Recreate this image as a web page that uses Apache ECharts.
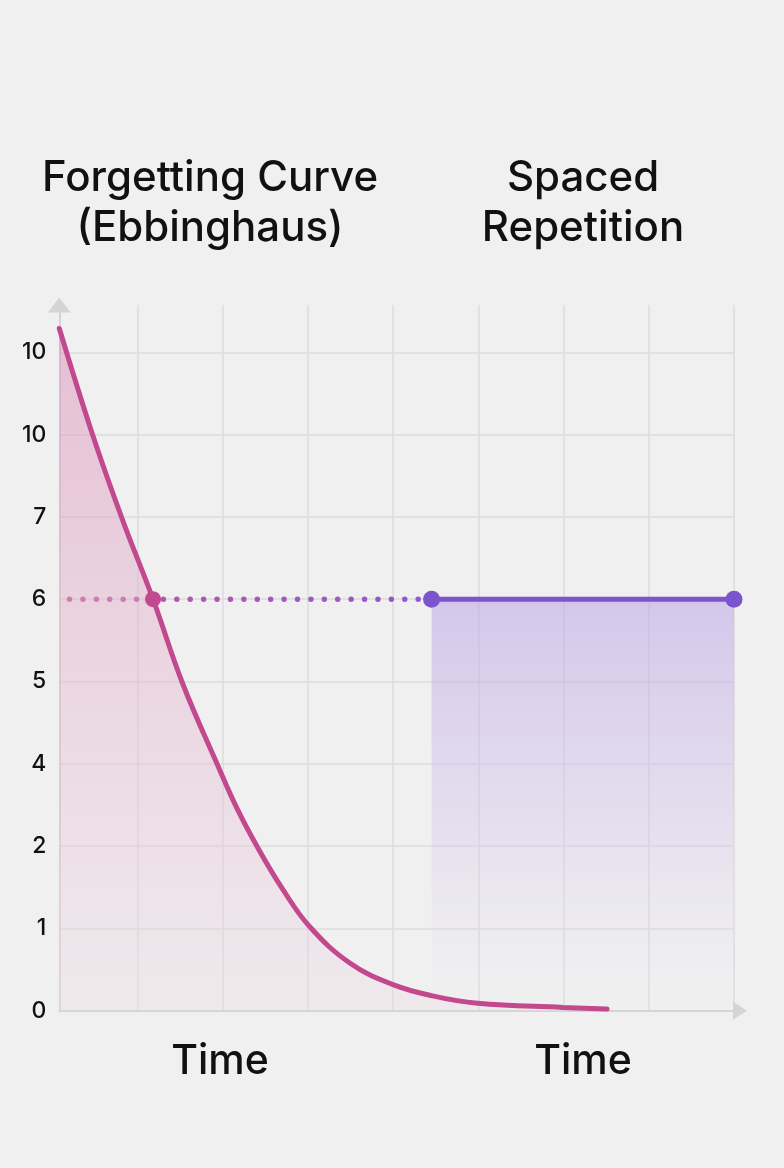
<!DOCTYPE html>
<html>
<head>
<meta charset="utf-8">
<script src="https://cdn.jsdelivr.net/npm/echarts@6/dist/echarts.min.js"></script>
<style>
html,body{margin:0;padding:0;background:#f0f0f0;}
#chart{width:784px;height:1168px;}
</style>
</head>
<body>
<div id="chart"></div>
<script>
// ---- data ----
const yTickLabels = ['0', '1', '2', '4', '5', '6', '7', '10', '10'];
const yTickValues = [0, 1, 2, 3, 4, 5, 6, 7, 8];
const xTickValues = [1, 2, 3, 4, 5, 6, 7, 8];
const forgetX = [0.08, 0.48, 0.82, 1.18, 1.53, 1.94, 2.16, 2.41, 2.70, 3.02, 3.49, 3.99, 4.46, 4.99, 5.99, 6.51];
const forgetY = [8.29, 6.97, 5.97, 5.0, 3.97, 2.98, 2.47, 1.98, 1.48, 1.02, 0.58, 0.32, 0.18, 0.09, 0.04, 0.02];
const retentionLevel = 5;
const dottedX = [0.2, 4.3];
const spacedX = [4.45, 8.0];
const crossX = 1.18;
const titleLeft = 'Forgetting Curve\n(Ebbinghaus)';
const titleRight = 'Spaced\nRepetition';
const xName = 'Time';

const FONT = 'Inter, "Liberation Sans", sans-serif';
const chart = echarts.init(document.getElementById('chart'), null, {renderer: 'canvas'});

const forgetData = forgetX.map((x, i) => [x, forgetY[i]]);

chart.setOption({
  backgroundColor: '#f0f0f0',
  animation: false,
  grid: {left: 59.3, right: 50, top: 305, bottom: 157.3, containLabel: false},
  xAxis: {
    type: 'value', min: 0.08, max: 8,
    axisLine: {show: true, lineStyle: {color: '#d4d4d4', width: 2},
      symbol: ['none', 'triangle'], symbolSize: [18, 14], symbolOffset: [0, 6]},
    axisTick: {show: false, customValues: xTickValues},
    axisLabel: {show: false},
    splitLine: {show: true, lineStyle: {color: '#dcdcdc', width: 1.5}}
  },
  yAxis: {
    type: 'value', min: 0, max: 8.575,
    axisLine: {show: true, lineStyle: {color: '#d4d4d4', width: 2},
      symbol: ['none', 'triangle'], symbolSize: [23, 15], symbolOffset: [0, 0]},
    axisTick: {show: false, customValues: yTickValues},
    axisLabel: {show: true, customValues: yTickValues, margin: 13, color: '#111',
      fontFamily: FONT, fontSize: 23, fontWeight: 500, formatter: v => yTickLabels[Math.round(v)]},
    splitLine: {show: true, lineStyle: {color: '#dcdcdc', width: 1.5}}
  },
  graphic: [
    {type: 'text', x: 210, y: 203, style: {text: titleLeft, font: '500 42px ' + FONT, fill: '#111', align: 'center', verticalAlign: 'middle', lineHeight: 50}},
    {type: 'text', x: 583, y: 203, style: {text: titleRight, font: '500 42px ' + FONT, fill: '#111', align: 'center', verticalAlign: 'middle', lineHeight: 50}},
    {type: 'text', x: 220, y: 1062, style: {text: xName, font: '500 41px ' + FONT, fill: '#111', align: 'center', verticalAlign: 'middle'}},
    {type: 'text', x: 583, y: 1062, style: {text: xName, font: '500 41px ' + FONT, fill: '#111', align: 'center', verticalAlign: 'middle'}}
  ],
  series: [
    {
      type: 'line', name: 'spaced', data: [[spacedX[0], retentionLevel], [spacedX[1], retentionLevel]],
      symbol: 'circle', symbolSize: 17, showSymbol: true,
      itemStyle: {color: '#7c54cc', opacity: 1},
      lineStyle: {color: '#7c54cc', width: 5},
      areaStyle: {color: new echarts.graphic.LinearGradient(0, 0, 0, 1, [
        {offset: 0, color: 'rgba(190,165,230,0.8)'},
        {offset: 0.55, color: 'rgba(210,195,235,0.55)'},
        {offset: 1, color: 'rgba(235,232,240,0.1)'}
      ])},
      z: 3
    },
    {
      type: 'line', name: 'forget', data: forgetData, smooth: 0.4,
      showSymbol: false,
      lineStyle: {color: '#c2498d', width: 5, cap: 'round'},
      areaStyle: {color: new echarts.graphic.LinearGradient(0, 0, 0, 1, [
        {offset: 0, color: 'rgba(220,145,188,0.75)'},
        {offset: 0.5, color: 'rgba(228,178,204,0.6)'},
        {offset: 1, color: 'rgba(236,220,228,0.5)'}
      ])},
      z: 4
    },
    {
      type: 'line', name: 'dotted', data: [[dottedX[0], retentionLevel], [dottedX[1], retentionLevel]],
      showSymbol: false,
      lineStyle: {width: 5.5, cap: 'round', type: [0.01, 13.4],
        color: new echarts.graphic.LinearGradient(0, 0, 1, 0, [
          {offset: 0, color: '#c4579a'},
          {offset: 1, color: '#8e5ad0'}
        ])},
      z: 3
    },
    {
      type: 'scatter', name: 'cross', data: [[crossX, retentionLevel]],
      symbolSize: 16, itemStyle: {color: '#c2498d', opacity: 1}, z: 5
    }
  ]
});
</script>
</body>
</html>
